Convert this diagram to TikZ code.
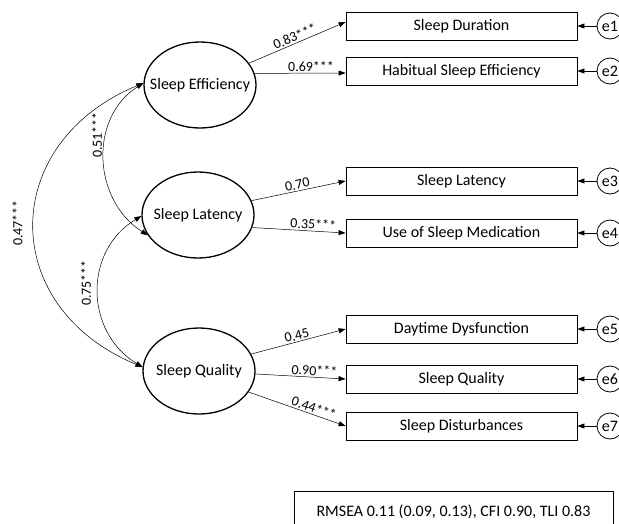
\documentclass[tikz,border=0pt]{standalone}
\usepackage{fontspec}
\setmainfont{Carlito}
\usetikzlibrary{shapes.geometric,arrows.meta,positioning}
\tikzset{
  % Latent factor
  latent/.style={ellipse, draw, line width=1.3pt,
                 minimum width=112pt, minimum height=86pt, inner sep=0pt},
  % Observed indicator
  obsbox/.style={rectangle, draw, line width=0.8pt,
                 minimum width=231pt, minimum height=28pt, inner sep=0pt},
  % Error term
  errc/.style={circle, draw, line width=0.8pt, minimum size=26pt, inner sep=0pt},
  % Fit index box
  fitbox/.style={rectangle, draw, line width=0.8pt,
                 minimum width=319pt, minimum height=41pt, inner sep=0pt},
  % Coefficients
  coef/.style={font=\fontsize{14}{16}\selectfont, inner sep=1.5pt},
  % Arrows
  arr/.style ={-{Triangle[length=7pt,width=5pt]}, line width=0.5pt},
  carr/.style={{Triangle[length=7pt,width=5pt]}-{Triangle[length=7pt,width=5pt]},
               line width=0.5pt},
}

\begin{document}
\begin{tikzpicture}[x=1pt,y=-1pt,font=\fontsize{16}{19}\selectfont]

    \useasboundingbox (0,0) rectangle (619,523);

    %% ── Latent factors ─────────────────────────────────────
    \node[latent,label=center:{Sleep Efficiency}] (se) at (200,85)  {};
    \node[latent,label=center:{Sleep Latency}]    (sl) at (198,215) {};
    \node[latent,label=center:{Sleep Quality}]    (sq) at (199,371) {};

    %% ── Indicators ─────────────────────────────────────────
    \node[obsbox] (sd)   at (461.5,26)  {Sleep Duration};
    \node[obsbox] (hse)  at (461.5,71)  {Habitual Sleep Efficiency};
    \node[obsbox] (slat) at (461.5,181) {Sleep Latency};
    \node[obsbox] (usm)  at (461.5,233) {Use of Sleep Medication};
    \node[obsbox] (dd)   at (461.5,329) {Daytime Dysfunction};
    \node[obsbox] (sqb)  at (461.5,379) {Sleep Quality};
    \node[obsbox] (sdis) at (461.5,426) {Sleep Disturbances};

    %% ── Error terms ────────────────────────────────────────
    \node[errc] (e1) at (610,26)  {e1};
    \node[errc] (e2) at (610,71)  {e2};
    \node[errc] (e3) at (610,181) {e3};
    \node[errc] (e4) at (610,233) {e4};
    \node[errc] (e5) at (610,329) {e5};
    \node[errc] (e6) at (610,379) {e6};
    \node[errc] (e7) at (610,426) {e7};

    %% ── Loadings ───────────────────────────────────────────
    \draw[arr] (se.24) -- node[coef,sloped,above] {0.83***} ([yshift=4pt]sd.west);
    \draw[arr] (se.12) -- node[coef,above,pos=0.62] {0.69***} ([yshift=-2pt]hse.west);
    \draw[arr] (sl.15) -- node[coef,sloped,above] {0.70} (slat.west);
    \draw[arr] (sl.-13) -- node[coef,sloped,above,pos=0.65] {0.35***} (usm.west);
    \draw[arr] (sq.18) -- node[coef,sloped,above] {0.45} (dd.west);
    \draw[arr] (sq.-3) -- node[coef,sloped,above,pos=0.65] {0.90***} (sqb.west);
    \draw[arr] (sq.-23) -- node[coef,sloped,above,pos=0.65] {0.44***} (sdis.west);

    %% ── Residuals ──────────────────────────────────────────
    \draw[arr] (e1) -- (sd.east);
    \draw[arr] (e2) -- (hse.east);
    \draw[arr] (e3) -- (slat.east);
    \draw[arr] (e4) -- (usm.east);
    \draw[arr] (e5) -- (dd.east);
    \draw[arr] (e6) -- (sqb.east);
    \draw[arr] (e7) -- (sdis.east);

    %% ── Covariances ────────────────────────────────────────
    \draw[carr] (se.178) .. controls +(-55,35) and +(-55,-35) .. (sl.202);
    \draw[carr] (se.178) .. controls +(-145,60) and +(-145,-60) .. (sq.176);
    \draw[carr] (sl.181) .. controls +(-58,35) and +(-58,-35) .. (sq.176);
    \node[coef,rotate=90] (c51) at (97,135)   {0.51***};
    \node[coef,rotate=90] (c47) at (17.5,223) {0.47***};
    \node[coef,rotate=90] (c75) at (86,283)   {0.75***};

    %% ── Fit ────────────────────────────────────────────────
    \node[fitbox] (fit) at (453.5,511.5) {RMSEA 0.11 (0.09, 0.13), CFI 0.90, TLI 0.83};

  \end{tikzpicture}
\end{document}
